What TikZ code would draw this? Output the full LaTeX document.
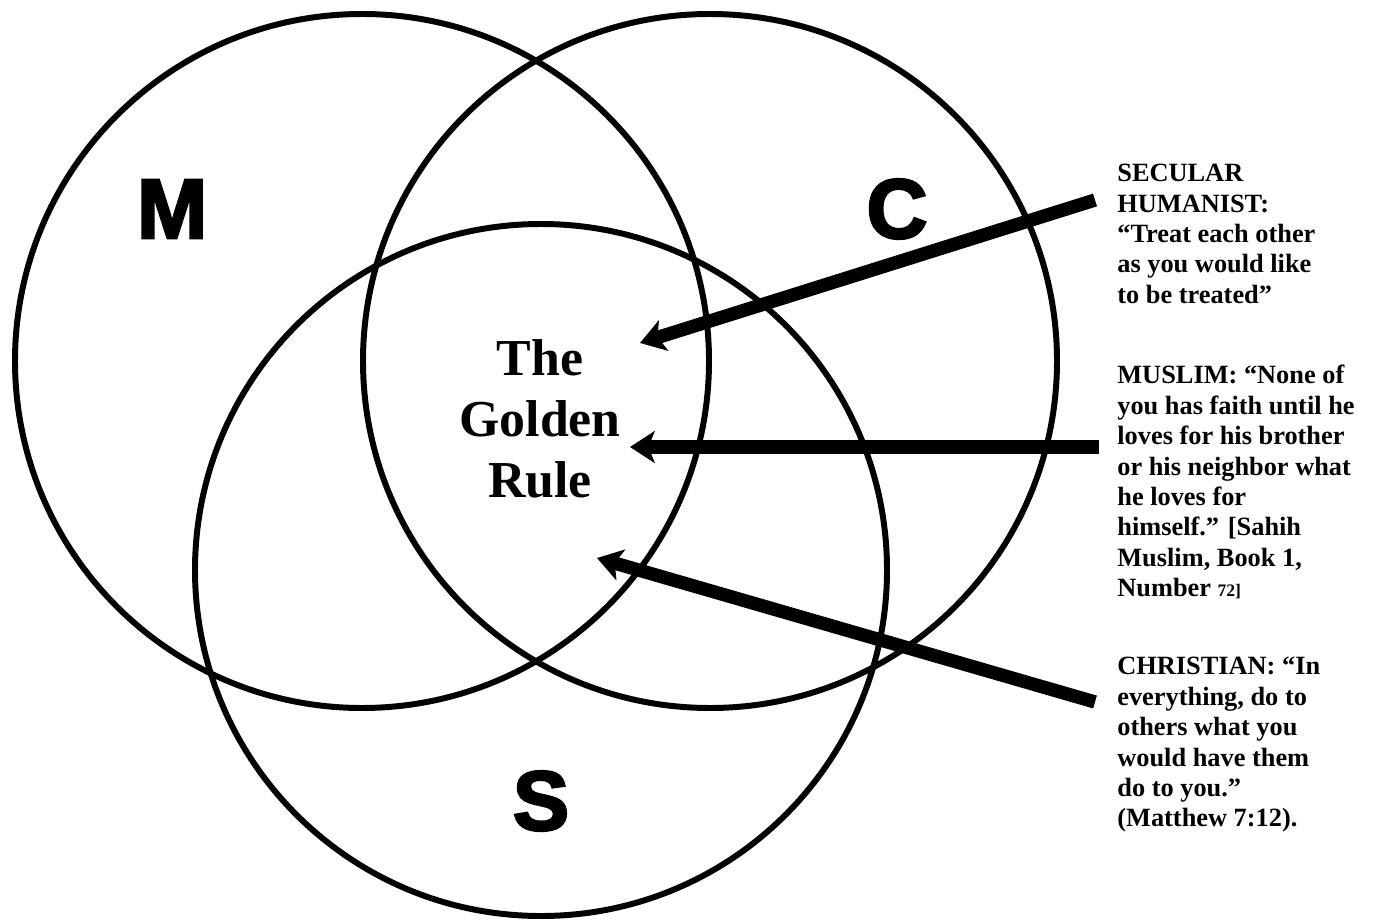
\documentclass[tikz,border=0pt]{standalone}
\usepackage{fontspec}
\setmainfont{Liberation Serif}
\setsansfont{Liberation Sans}
\newfontfamily\heavyfont[BoldFeatures={FakeBold=3}]{Liberation Sans}
\usepackage{tikz}
\usetikzlibrary{arrows.meta}
\definecolor{vennline}{RGB}{0,0,0}
\tikzset{
  ring/.style ={draw=vennline, line width=3.4pt},
  ptr/.style  ={draw=vennline, line width=7.6pt, line cap=butt, -{Stealth[length=14pt,width=18pt,inset=3.5pt]}},
  txt/.style  ={font=\fontsize{15}{17.3}\selectfont\bfseries, align=left, anchor=north west, inner sep=0pt},
  lett/.style ={font=\fontsize{48}{50}\selectfont\heavyfont\bfseries, inner sep=0pt},
  gold/.style ={font=\fontsize{29.5}{34.6}\selectfont\bfseries, align=center, inner sep=0pt},
}
\begin{document}
\begin{tikzpicture}[x=0.02cm,y=-0.02cm]
  \useasboundingbox (0,0) rectangle (1382,922);
  \draw[ring] (362,361) circle[radius=347];
  \draw[ring] (710,361) circle[radius=347];
  \draw[ring] (541,570) circle[radius=346];
  \node[lett] (m) at (172,209) {M};
  \node[lett] (c) at (897,209) {C};
  \node[lett] (s) at (541,801) {S};
  \node[gold] (rule) at (540,419) {The\\Golden\\Rule};
  \node[txt] (secular) at (1117,164) {SECULAR\\HUMANIST:\\“Treat each other\\as you would like\\to be treated”};
  \node[txt] (muslim) at (1117,365) {MUSLIM: “None of\\you has faith until he\\loves for his brother\\or his neighbor what\\he loves for\\himself.” [Sahih\\Muslim, Book 1,\\Number {\fontsize{10}{12}\selectfont 72]}};
  \node[txt] (christian) at (1117,657) {CHRISTIAN: “In\\everything, do to\\others what you\\would have them\\do to you.”\\(Matthew 7:12).};
  \coordinate (sectail) at (1095,200);
  \coordinate (sectip) at (640,343);
  \coordinate (mustail) at (1099,447);
  \coordinate (mustip) at (630,447);
  \coordinate (chrtail) at (1095,702);
  \coordinate (chrtip) at (597,558);
  \draw[ptr] (sectail) -- (sectip);
  \draw[ptr] (mustail) -- (mustip);
  \draw[ptr] (chrtail) -- (chrtip);
\end{tikzpicture}
\end{document}
